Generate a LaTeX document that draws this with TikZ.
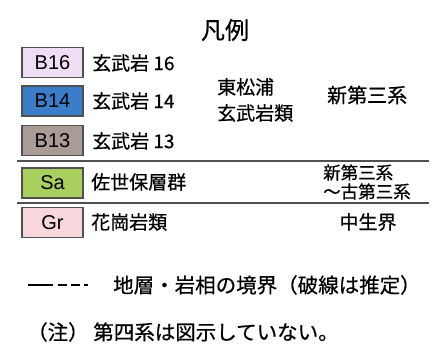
\documentclass[tikz,border=0pt]{standalone}
\usepackage{fontspec}
\setmainfont{Liberation Sans}
\newfontfamily\jpfont[FakeBold=0.6]{Noto Sans CJK JP}
\definecolor{cbsixteen}{HTML}{EEDDF5}
\definecolor{cbfourteen}{HTML}{3B7DC8}
\definecolor{cbthirteen}{HTML}{A99C96}
\definecolor{csa}{HTML}{A9CF5E}
\definecolor{cgr}{HTML}{F7D6DC}
\definecolor{rule}{HTML}{505050}
\begin{document}
\begin{tikzpicture}[x=1pt,y=-1pt,
    unitbox/.style={draw=rule,line width=1.2pt,minimum width=61pt,minimum height=30pt,
      inner sep=0pt,font=\fontsize{20}{20}\selectfont},
    jtext/.style={font=\jpfont\fontsize{19}{26}\selectfont,inner sep=0pt},
    sepline/.style={draw=rule,line width=1.4pt}]
  \useasboundingbox (0,0) rectangle (437,351);
  % title
  \node[jtext,font=\jpfont\fontsize{24}{24}\selectfont] (title) at (225,30) {凡例};
  % colour boxes
  \node[unitbox,fill=cbsixteen] (b16) at (52.5,62.5) {B16};
  \node[unitbox,fill=cbfourteen] (b14) at (52.5,101) {B14};
  \node[unitbox,fill=cbthirteen] (b13) at (52.5,140.5) {B13};
  \node[unitbox,fill=csa] (sa) at (52.5,183) {Sa};
  \node[unitbox,fill=cgr] (gr) at (52.5,222.5) {Gr};
  % unit names
  \node[jtext,anchor=west] (l16) at (92,63) {玄武岩 16};
  \node[jtext,anchor=west] (l14) at (92,101) {玄武岩 14};
  \node[jtext,anchor=west] (l13) at (92,141) {玄武岩 13};
  \node[jtext,anchor=west] (lsa) at (91,182) {佐世保層群};
  \node[jtext,anchor=west] (lgr) at (91,222) {花崗岩類};
  % groups and ages
  \node[jtext,anchor=west,align=left] (grp) at (217,100) {東松浦\\玄武岩類};
  \node[jtext,anchor=west,font=\jpfont\fontsize{20}{26}\selectfont] (neo) at (327,95) {新第三系};
  \node[jtext,anchor=west,align=left,font=\jpfont\fontsize{17.5}{19}\selectfont] (neopal) at (323,182) {新第三系\\～古第三系};
  \node[jtext] (meso) at (368,222) {中生界};
  % separators
  \draw[sepline] (17,161) -- (429,161);
  \draw[sepline] (17,203) -- (429,203);
  % boundary key
  \coordinate (ka) at (28,285);
  \coordinate (kb) at (53,285);
  \coordinate (kc) at (58,285);
  \coordinate (kd) at (88,285);
  \draw[line width=1.1pt] (ka) -- (kb);
  \draw[line width=1.1pt,dash pattern=on 9pt off 4pt] (kc) -- (kd);
  \node[jtext,anchor=west,font=\jpfont\fontsize{20.5}{26}\selectfont] (bnd) at (113,285) {地層・岩相の境界（破線は推定）};
  \node[jtext,anchor=west,font=\jpfont\fontsize{20.5}{26}\selectfont] (note) at (27,332) {（注） 第四系は図示していない。};
\end{tikzpicture}
\end{document}
